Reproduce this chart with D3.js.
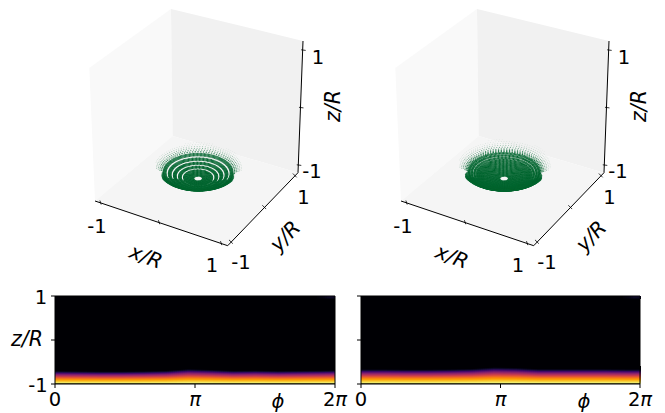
<!DOCTYPE html>
<html><head><meta charset="utf-8">
<script src="https://cdn.jsdelivr.net/npm/d3@7"></script>
<style>html,body{margin:0;background:#fff}svg{display:block}text{font-family:"DejaVu Sans";fill:#000}</style>
</head><body><svg id="c" width="665" height="413"></svg>
<script>
// ---- data ----
// solid bands of the bowl: start radius, end radius, opacity
const bandStartA = [0.065,0.25,0.325,0.40,0.475];
const bandEndA   = [0.215,0.295,0.37,0.445,0.515];
const bandOpA    = [1,1,1,0.95,0.85];
const gapRadiusA = [0.2275,0.31,0.385,0.46];
const frontRimA = 0.58;
// sparse outer rings: radius, opacity
const outerRadiusA = [0.54,0.565,0.59,0.615,0.64,0.665];
const outerOpacityA = [0.75,0.6,0.45,0.32,0.2,0.12];
const bandStartB = [0.065,0.43,0.47,0.505];
const bandEndB   = [0.415,0.455,0.49,0.525];
const bandOpB    = [1,1,1,0.95];
const gapRadiusB = [0.42,0.4625,0.4975];
const frontRimB = 0.63;
const outerRadiusB = [0.54,0.56,0.58,0.605,0.63,0.655,0.68,0.705];
const outerOpacityB = [0.9,0.78,0.65,0.5,0.36,0.25,0.16,0.1];
// rim reach per phi sector (back sectors first, going round by +y)
const rimSectorA = [0.62,0.64,0.66,0.69,0.66,0.68,0.7,0.66,0.64,0.66,0.62,0.6,0.6,0.6,0.6,0.6,0.6,0.6];
const rimSectorB = [0.66,0.68,0.7,0.72,0.68,0.7,0.72,0.7,0.68,0.7,0.66,0.63,0.62,0.62,0.62,0.62,0.62,0.63];
const profileZ = [0,0.06,0.15,0.27,0.4,0.52,0.65,0.78,0.9,1,1.1];
const profileV = [1,0.97,0.91,0.83,0.74,0.63,0.5,0.36,0.2,0.08,0];
const phiStops = [0,0.5,1,1.5,2,2.5,3,3.5,4,4.5,5,5.5,6,6.28];
const thickA = [0.275,0.27,0.265,0.265,0.27,0.28,0.315,0.3,0.28,0.285,0.275,0.28,0.285,0.29];
const thickB = [0.31,0.31,0.305,0.305,0.31,0.32,0.35,0.34,0.315,0.315,0.315,0.315,0.31,0.31];
const glowPhi = [5.9,6.05,6.15,6.28];
const glowV = [0.02,0.05,0.09,0.08];
const xTicks=[-1,0,1], yTicks=[-1,0,1], zTicks=[-1,0,1];

const svg=d3.select("#c");
const FS=19.5, FI=20.5;
const mono=(s,x,y,size,attrs={})=>{const t=svg.append("text").attr("x",x).attr("y",y).attr("font-size",size).attr("text-anchor","middle").attr("dominant-baseline","central").text(s);
  for(const k in attrs)t.attr(k,attrs[k]);return t;};

function homography(p00,p10,p11,p01){
  const [x0,y0]=p00,[x1,y1]=p10,[x2,y2]=p11,[x3,y3]=p01;
  const dx1=x1-x2,dx2=x3-x2,dx3=x0-x1+x2-x3,dy1=y1-y2,dy2=y3-y2,dy3=y0-y1+y2-y3;
  const den=dx1*dy2-dx2*dy1;
  const g=(dx3*dy2-dx2*dy3)/den,h=(dx1*dy3-dx3*dy1)/den;
  const a=x1-x0+g*x1,b=x3-x0+h*x3,d=y1-y0+g*y1,e=y3-y0+h*y3;
  return (u,v)=>{const w=g*u+h*v+1;return [(a*u+b*v+x0)/w,(d*u+e*v+y0)/w];};
}
function panel3D(ox,bStart,bEnd,bOp,gaps,frontRim,oR,oO,rim){
  const L=[95+ox,201],F=[227.7+ox,245.7],R=[298+ox,172.7],B=[172.7+ox,136];
  const LT=[89.3+ox,68],BT=[171+ox,9],RT=[303+ox,41];
  const poly=(pts,c)=>svg.append("polygon").attr("points",pts.map(p=>p.join(",")).join(" ")).attr("fill",c);
  poly([L,LT,BT,B],"#f9f9f9");
  poly([B,BT,RT,R],"#f1f1f1");
  poly([L,F,R,B],"#f5f5f5");
  const lim=1.1;
  const sx=d3.scaleLinear().domain([-lim,lim]).range([0,1]);
  const sy=d3.scaleLinear().domain([-lim,lim]).range([0,1]);
  const H=homography(L,F,R,B);
  const zScale=d3.scaleLinear().domain([-1,1]).range([8,108]);
  const proj=(x,y,z)=>{const p=H(sx(x),sy(y));return [p[0],p[1]-zScale(z)];};
  const ln=(a,b,w=1)=>svg.append("line").attr("x1",a[0]).attr("y1",a[1]).attr("x2",b[0]).attr("y2",b[1]).attr("stroke","#000").attr("stroke-width",w);
  ln(L,F);ln(F,R);ln(R,RT);
  xTicks.forEach(t=>{const p=H(sx(t),0);ln([p[0]-0.8,p[1]-2.4],[p[0]+0.5,p[1]+1.6],0.8);});
  yTicks.forEach(t=>{const p=H(1,sy(t));ln([p[0]+1.6,p[1]+1.6],[p[0]-2.2,p[1]-2.2],0.8);});
  const zAxis=d3.scaleLinear().domain([-1,1]).range([165,50]);
  const zx=d3.scaleLinear().domain([172.7,41]).range([R[0],RT[0]]);
  zTicks.forEach(t=>{const y=zAxis(t),x=zx(y);ln([x-1.5,y-0.2],[x+3,y+0.4],0.8);});
  mono("-1",97+ox,226.5,FS);mono("1",212+ox,265,FS);
  mono("-1",241+ox,262,FS);mono("1",303.5+ox,197,FS);
  mono("-1",312+ox,171,FS);mono("1",318+ox,57,FS);
  const lab=(s,x,y,r)=>mono(s,x,y,FI,{"font-style":"italic",transform:`rotate(${r} ${x} ${y})`});
  lab("x/R",146+ox,256.5,21);
  lab("y/R",285+ox,236,-46);
  lab("z/R",333+ox,106,-90);
  const g=svg.append("g").attr("fill","#00652f");
  const phiAt=d3.scaleLinear().domain([0,1]).range([0,2*Math.PI]);
  const sector=d3.scaleQuantize().domain([0,2*Math.PI]).range(rim);
  const frontness=phi=>Math.cos(phi+62.6*Math.PI/180);
  const dot=(r,phi,op,rad)=>{
    const z=-Math.sqrt(Math.max(0,1-r*r));
    const [px,py]=proj(r*Math.cos(phi),r*Math.sin(phi),z);
    g.append("circle").attr("cx",px).attr("cy",py).attr("r",rad).attr("fill-opacity",op);
  };
  oR.forEach((r,i)=>{
    const n=Math.round(r*150);
    d3.range(n).forEach(k=>{
      const phi=phiAt(k/n);
      if(frontness(phi)>0.1||r>sector(phi))return;
      dot(r,phi,oO[i],0.35+0.5*oO[i]);
    });
  });
  bStart.forEach((s,i)=>{
    d3.range(s,bEnd[i]+1e-6,0.01).forEach(r=>{
      const n=Math.max(14,Math.round(r*300));
      d3.range(n).forEach(k=>dot(r,phiAt(k/n),bOp[i],0.62));
    });
  });
  gaps.forEach(r=>{
    const n=Math.round(r*300);
    d3.range(n).forEach(k=>{const phi=phiAt(k/n);if(frontness(phi)>0.35)dot(r,phi,1,0.7);});
  });
  const inner=bEnd[bEnd.length-1];
  d3.range(inner,frontRim,0.009).forEach(r=>{
    const n=Math.round(r*300);
    d3.range(n).forEach(k=>{
      const phi=phiAt(k/n),f=frontness(phi);
      if(f<=0||r>inner+(frontRim-inner)*Math.min(1,f*2))return;
      dot(r,phi,Math.min(1,0.35+f),0.65);
    });
  });
}
panel3D(0,bandStartA,bandEndA,bandOpA,gapRadiusA,frontRimA,outerRadiusA,outerOpacityA,rimSectorA);
panel3D(306,bandStartB,bandEndB,bandOpB,gapRadiusB,frontRimB,outerRadiusB,outerOpacityB,rimSectorB);

function heat(x0,x1,thick,yLabels){
  const y0=296,y1=384;
  const px=d3.scaleLinear().domain([0,2*Math.PI]).range([x0,x1]);
  const zs=d3.scaleLinear().domain([-1,1]).range([y1,y0]);
  const th=d3.scaleLinear().domain(phiStops).range(thick);
  const prof=d3.scaleLinear().domain(profileZ).range(profileV).clamp(true);
  const col=d3.scaleSequential(d3.interpolateInferno).domain([0,1]);
  const glow=d3.scaleLinear().domain(glowPhi).range(glowV).clamp(true);
  const g=svg.append("g").attr("shape-rendering","crispEdges");
  g.append("rect").attr("x",x0).attr("y",y0).attr("width",x1-x0).attr("height",y1-y0).attr("fill","#000004");
  const rows=d3.range(0,18);
  const cols=d3.range(0,Math.round(x1-x0),2);
  cols.forEach(c=>{
    const phi=px.invert(x0+c+1);
    rows.forEach(r=>{
      const yTop=y1-1-r;
      const v=prof((zs.invert(yTop+0.5)+1)/th(phi));
      g.append("rect").attr("x",x0+c).attr("y",yTop).attr("width",2.2).attr("height",1.1).attr("fill",col(v));
    });
    if(phi>5.9)[0,1,2].forEach(r=>g.append("rect").attr("x",x0+c).attr("y",y0+r).attr("width",2.2).attr("height",1.1).attr("fill",col(glow(phi)*(1-r*0.3))));
  });
  g.append("rect").attr("x",x0).attr("y",y1-1).attr("width",x1-x0).attr("height",1).attr("fill","#6b6b25");
  const tick=(a,b,c,d)=>svg.append("line").attr("x1",a).attr("y1",b).attr("x2",c).attr("y2",d).attr("stroke","#000").attr("stroke-width",1);
  [0,Math.PI,2*Math.PI].forEach(p=>tick(px(p),y1,px(p),y1+4));
  [-1,0,1].forEach(z=>tick(x0-4,zs(z),x0,zs(z)));
  tick(x0,y0,x0,y1);tick(x1,y0,x1,y1);tick(x0,y1,x1,y1);tick(x0,y0,x1,y0);
  mono("0",x0,399,FS);
  mono("π",px(Math.PI),399,FS,{"font-style":"italic"});
  mono("2π",x1,399,FS).html('2<tspan font-style="italic">π</tspan>');
  mono("ϕ",x0+223,401,FS,{"font-style":"italic"});
  if(yLabels){
    mono("1",x0-14,297,FS);mono("-1",x0-17,385,FS);
    mono("z/R",27,339,FI,{"font-style":"italic"});
  }
}
heat(55,335,thickA,true);
heat(361,640,thickB,false);
</script></body></html>
